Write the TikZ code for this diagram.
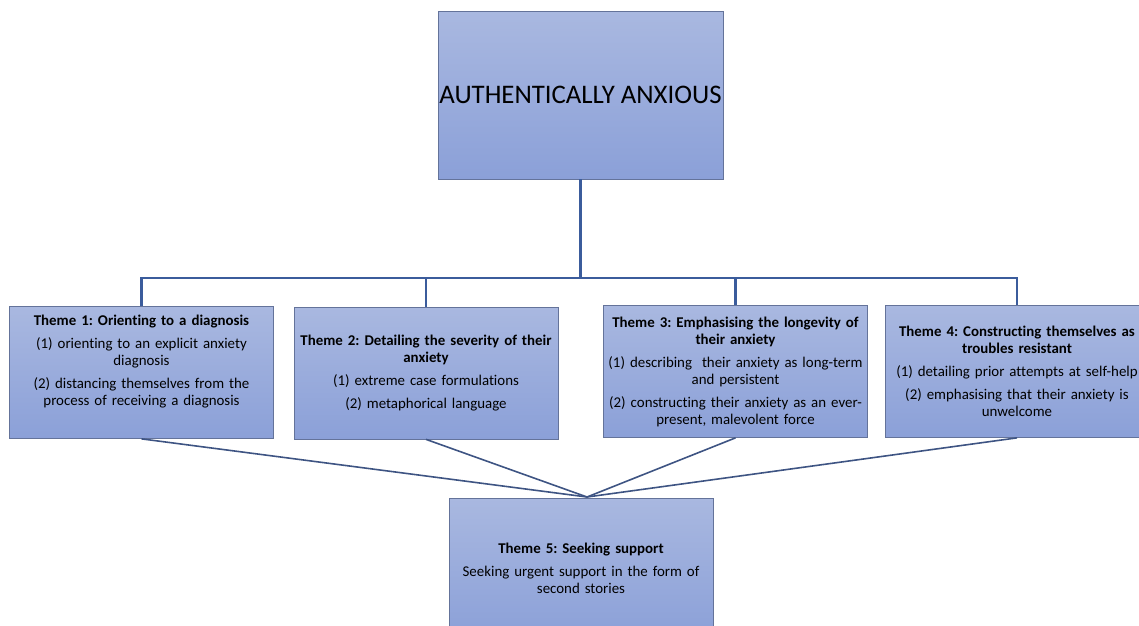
\documentclass[tikz,border=0pt]{standalone}
\usepackage{fontspec}
\setmainfont{Carlito}[Ligatures=CommonOff]
\usetikzlibrary{positioning}
\definecolor{boxtop}{HTML}{A9B8E0}
\definecolor{boxbot}{HTML}{8BA0D8}
\definecolor{boxedge}{HTML}{64739A}
\definecolor{linkblue}{HTML}{3B5C9C}
\definecolor{fanblue}{HTML}{3E5483}
\frenchspacing

\tikzset{
  anyBox/.style={draw=boxedge, line width=0.7pt, top color=boxtop, bottom color=boxbot, align=center, inner sep=0pt},
  themeBox/.style={anyBox, minimum width=264, minimum height=132, text width=264, font=\fontsize{14.9}{17}\selectfont},
  trunk/.style={draw=linkblue, line width=2.2pt},
  fan/.style={draw=fanblue, line width=1.6pt}
}

\begin{document}
\begin{tikzpicture}[x=1pt,y=-1pt]
  \useasboundingbox (0,0) rectangle (1139,625);
  \clip (0,0) rectangle (1139,625);

  \node[anyBox, minimum width=285, minimum height=168, font=\fontsize{26.8}{31}\selectfont] (top) at (580.5,95) {AUTHENTICALLY ANXIOUS};

  \node[themeBox] (t1) at (141.5,372.5) {\textbf{Theme 1: Orienting to a diagnosis}\\[6pt]
    (1) orienting to an explicit anxiety\\ diagnosis\\[6pt]
    (2) distancing themselves from the\\ process of receiving a diagnosis\\[7pt]\mbox{}};
  \node[themeBox] (t2) at (426,373) {\textbf{Theme 2: Detailing the severity of their}\\ \textbf{anxiety}\\[6pt]
    (1) extreme case formulations\\[6pt]
    (2) metaphorical language};
  \node[themeBox] (t3) at (735.5,371.5) {\textbf{Theme 3: Emphasising the longevity of}\\ \textbf{their anxiety}\\[6pt]
    (1) describing\ \ their anxiety as long-term\\ and persistent\\[6pt]
    (2) constructing their anxiety as an ever-\\ present, malevolent force};
  \node[themeBox] (t4) at (1017,371.5) {\textbf{Theme 4: Constructing themselves as}\\ \textbf{troubles resistant}\\[6pt]
    (1) detailing prior attempts at self-help\\[6pt]
    (2) emphasising that their anxiety is\\ unwelcome};

  \node[themeBox, minimum height=140] (t5) at (581,568) {\textbf{Theme 5: Seeking support}\\[6pt]
    Seeking urgent support in the form of\\ second stories};

  \coordinate (bar) at (0,278);
  \coordinate (hub) at (587,497);

  \foreach \t in {t1,t2,t3,t4}
    \draw[trunk] (top.south) -- (top.south |- bar) -| (\t.north);
  \foreach \t in {t1,t2,t3,t4}
    \draw[fan] (\t.south) -- (hub);
\end{tikzpicture}
\end{document}
